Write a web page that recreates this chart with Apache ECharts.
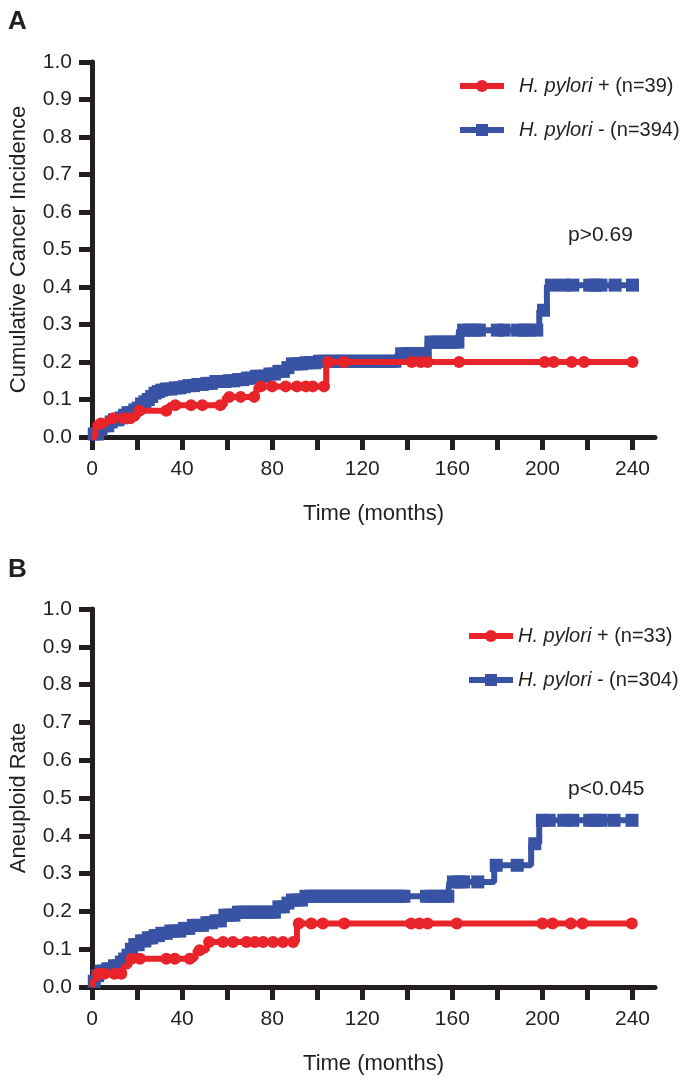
<!DOCTYPE html>
<html><head><meta charset="utf-8">
<script src="https://cdn.jsdelivr.net/npm/echarts@6/dist/echarts.min.js"></script>
<style>html,body{margin:0;padding:0;background:#fff}#c{width:683px;height:1082px}</style>
</head><body><div id="c"></div>
<script>
// ---- tick labels ----
const yTickValues = [0, 0.1, 0.2, 0.3, 0.4, 0.5, 0.6, 0.7, 0.8, 0.9, 1.0];
const xTickValues = [0, 20, 40, 60, 80, 100, 120, 140, 160, 180, 200, 220, 240];
const xLabelValues = [0, 40, 80, 120, 160, 200, 240];

// ---- Panel A: Cumulative Cancer Incidence ----
const nameRedA = 'H. pylori + (n=39)';
const nameBlueA = 'H. pylori - (n=394)';
const redA_t = [0, 1.5, 7, 20, 34, 59, 73, 104];
const redA_v = [0, 0.036, 0.05, 0.07, 0.085, 0.107, 0.135, 0.2];
const redA_c = [4, 9.5, 14, 17, 21, 33, 37, 44, 49, 57, 61, 66, 72, 75, 80, 86, 91, 95, 98, 103, 105, 112, 142, 146, 149, 163, 201, 205, 213, 218.5, 240];
const blueA_t = [0, 1, 3, 5, 8, 10, 12, 14, 16, 18, 19.5, 21, 22, 23, 24, 25.5, 27, 28.5, 30, 33, 36, 40, 43, 46, 50, 55, 60, 65, 69, 73, 78, 83, 86, 88, 95, 100, 135.6, 149, 163, 198.6, 202];
const blueA_v = [0, 0.008, 0.02, 0.03, 0.04, 0.046, 0.051, 0.058, 0.065, 0.072, 0.077, 0.082, 0.088, 0.094, 0.1, 0.108, 0.117, 0.121, 0.125, 0.128, 0.131, 0.134, 0.137, 0.14, 0.143, 0.148, 0.15, 0.153, 0.157, 0.162, 0.168, 0.175, 0.185, 0.195, 0.198, 0.202, 0.222, 0.253, 0.285, 0.338, 0.405];
const blueA_c = [1, 2.5, 4, 5.5, 7, 8.5, 10, 11.5, 13, 14.5, 16, 17.5, 19, 20.5, 22, 23.5, 25, 26.5, 28, 29.5, 31, 33, 35, 37, 39, 41, 43, 45, 47, 49, 51, 53, 55, 57, 59, 61, 63, 65, 67, 69, 71, 73, 75, 77, 79, 81, 83, 85, 87, 89, 91, 93, 95, 97, 99, 101, 103, 105, 107, 109, 111, 113, 115, 117, 119, 121, 123, 125, 127, 129, 131, 133, 134.5, 137.5, 140, 142, 144, 146, 148, 150.5, 152.5, 154.5, 156.5, 158.5, 160.5, 162.5, 165, 167.5, 170, 172, 180, 183, 189, 192, 194, 197.5, 200.5, 204, 209.5, 213.5, 221, 223.5, 226, 232.3, 240];

// ---- Panel B: Aneuploid Rate ----
const nameRedB = 'H. pylori + (n=33)';
const nameBlueB = 'H. pylori - (n=304)';
const redB_t = [0, 0.8, 2, 14, 16.5, 46, 51, 91];
const redB_v = [0, 0.02, 0.035, 0.055, 0.075, 0.097, 0.119, 0.168];
const redB_c = [2.7, 5.5, 10, 13, 17.6, 21.3, 33, 36.8, 43.4, 47.8, 52, 58.2, 62.6, 68.6, 72.3, 76, 80.4, 84.8, 89.3, 91.8, 97.4, 102.5, 112, 141.7, 145.4, 149, 162, 200, 204.5, 212.6, 217.8, 239.7];
const blueB_t = [0, 0.8, 2, 4, 6.5, 9, 12, 14, 15.5, 17, 19, 21, 24, 27, 31, 35, 40, 45, 50, 55, 59, 64, 83, 86, 89, 94, 158.7, 178.6, 195, 198.6];
const blueB_v = [0, 0.015, 0.03, 0.042, 0.048, 0.056, 0.066, 0.074, 0.084, 0.1, 0.112, 0.122, 0.13, 0.136, 0.142, 0.148, 0.155, 0.163, 0.17, 0.175, 0.19, 0.198, 0.212, 0.222, 0.23, 0.24, 0.278, 0.322, 0.379, 0.441];
const blueB_c = [1, 2.5, 4, 5.5, 7, 8.5, 10, 11.5, 13, 14.5, 16, 17.5, 19, 20.5, 22, 23.5, 25, 26.5, 28, 29.5, 31, 33, 35, 37, 39, 41, 43, 45, 47, 49, 51, 53, 55, 57, 59, 61, 63, 65, 67, 69, 71, 73, 75, 77, 79, 81, 83, 85, 87, 89, 91, 93, 95, 97, 99, 101, 103, 105, 107, 109, 111, 113, 115, 117, 119, 121, 123, 125, 127, 129, 131, 133, 135, 137, 138.5, 148.5, 151, 153.5, 156, 158, 160.5, 163, 165, 171.3, 179.5, 188.8, 196.6, 200, 203, 209.5, 213.5, 221, 223.5, 226, 231.8, 239.8];

const RED = '#e8232a';
const BLUE = '#3953a4';
const INK = '#231f20';
const FONT = 'Liberation Sans, Arial, sans-serif';

function build(evT, evV, cens) {
  const pts = evT.map((t, i) => ({ t: t, v: evV[i], c: false }));
  cens.forEach(ct => {
    let v = evV[0];
    for (let i = 0; i < evT.length; i++) { if (evT[i] <= ct) v = evV[i]; }
    pts.push({ t: ct, v: v, c: true });
  });
  pts.sort((a, b) => a.t - b.t || (a.c - b.c));
  return pts.map(p => p.c ? { value: [p.t, p.v] } : { value: [p.t, p.v], symbol: 'none' });
}

function xAxis(gi) {
  return {
    type: 'value', gridIndex: gi, min: 0, max: 250, interval: 20,
    axisLine: { show: true, onZero: false, lineStyle: { color: INK, width: 5 } },
    axisTick: { show: true, length: 13, lineStyle: { color: INK, width: 5 }, customValues: xTickValues },
    axisLabel: { show: true, margin: 22, color: INK, fontSize: 21, fontFamily: FONT, customValues: xLabelValues },
    splitLine: { show: false },
    name: 'Time (months)', nameLocation: 'middle', nameGap: 66,
    nameTextStyle: { color: INK, fontSize: 22, fontFamily: FONT }
  };
}
function yAxis(gi, name) {
  return {
    type: 'value', gridIndex: gi, min: 0, max: 1, interval: 0.1,
    axisLine: { show: true, lineStyle: { color: INK, width: 5 } },
    axisTick: { show: true, length: 13, lineStyle: { color: INK, width: 5 } },
    axisLabel: { margin: 20, color: INK, fontSize: 21, fontFamily: FONT, formatter: v => v.toFixed(1) },
    splitLine: { show: false },
    name: name, nameLocation: 'middle', nameGap: 62,
    nameTextStyle: { color: INK, fontSize: 22, fontFamily: FONT }
  };
}
function series(name, data, color, symbol, size, gi) {
  return {
    type: 'line', name: name, xAxisIndex: gi, yAxisIndex: gi,
    data: data, step: 'end', symbol: symbol, symbolSize: size, showSymbol: true,
    lineStyle: { color: color, width: 6 }, itemStyle: { color: color },
    emphasis: { disabled: true }, silent: true, clip: false, z: symbol === 'circle' ? 3 : 2
  };
}
function legend(names, left, top, padLeft) {
  return {
    data: names, orient: 'vertical', left: left, top: top, padding: 0,
    itemWidth: 44, itemHeight: 15, itemGap: 22, selectedMode: false,
    lineStyle: { width: 6 },
    formatter: n => '{i|H. pylori}' + n.slice(9),
    textStyle: {
      color: INK, fontSize: 20, fontFamily: FONT, lineHeight: 22, padding: [0, 0, 0, padLeft],
      rich: { i: { fontStyle: 'italic', color: INK, fontSize: 20, fontFamily: FONT } }
    }
  };
}

const chart = echarts.init(document.getElementById('c'), null, { renderer: 'canvas' });
chart.setOption({
  animation: false,
  backgroundColor: '#fff',
  title: [
    { text: 'A', left: 3, top: 4, textStyle: { fontSize: 26, fontWeight: 'bold', color: INK, fontFamily: FONT } },
    { text: 'B', left: 3, top: 552, textStyle: { fontSize: 26, fontWeight: 'bold', color: INK, fontFamily: FONT } },
    { text: 'p>0.69', left: 563, top: 220, textStyle: { fontSize: 21, fontWeight: 'normal', color: INK, fontFamily: FONT } },
    { text: 'p<0.045', left: 563, top: 774, textStyle: { fontSize: 21, fontWeight: 'normal', color: INK, fontFamily: FONT } }
  ],
  legend: [
    legend([nameRedA, nameBlueA], 457, 75, 10),
    legend([nameRedB, nameBlueB], 466, 625, 0)
  ],
  grid: [
    { left: 92, top: 62, width: 563, height: 375 },
    { left: 92, top: 609, width: 563, height: 378 }
  ],
  xAxis: [xAxis(0), xAxis(1)],
  yAxis: [yAxis(0, 'Cumulative Cancer Incidence'), yAxis(1, 'Aneuploid Rate')],
  series: [
    series(nameBlueA, build(blueA_t, blueA_v, blueA_c), BLUE, 'rect', 13, 0),
    series(nameRedA, build(redA_t, redA_v, redA_c), RED, 'circle', 12, 0),
    series(nameBlueB, build(blueB_t, blueB_v, blueB_c), BLUE, 'rect', 13, 1),
    series(nameRedB, build(redB_t, redB_v, redB_c), RED, 'circle', 12, 1)
  ]
});
</script></body></html>
